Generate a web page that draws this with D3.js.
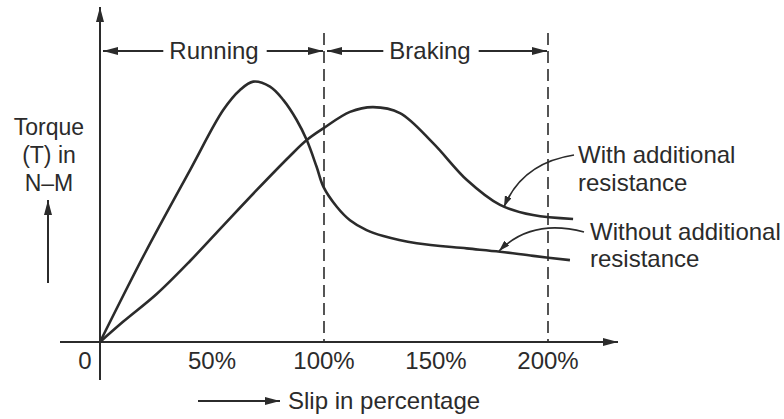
<!DOCTYPE html>
<html><head><meta charset="utf-8">
<script src="https://cdn.jsdelivr.net/npm/d3@7"></script>
<style>html,body{margin:0;padding:0;background:#fff;}svg{display:block;font-family:"Liberation Sans",Arial,sans-serif;}</style>
</head><body>
<svg id="c" width="784" height="419"></svg>
<script>
// Data
const slipWithout = [0,20,40.2,55,62.5,68.4,75.9,81.8,87.8,92.3,96.7,99.7,105.7,111.6,119,126.5,141.4,163.7,178.6,193.4,209.8];
const torqueWithout = [0,29.5,57.3,77.3,84,86.8,85.1,80.7,74,67.3,58.4,51.8,45.1,40.6,37.3,35.3,32.9,31.2,30.1,28.7,27.3];
const slipWith = [0,10.4,25.3,40.2,55,69.9,84.8,92.3,99.7,111.6,121.9,133.9,148.7,163.8,178.6,193.3,211.2];
const torqueWith = [0,6.8,16,27,38.8,50.6,62,67.3,71.2,76.7,78.3,76.3,66.3,54,45.7,42.3,41];
const tickValues = [0,50,100,150,200];
const tickLabels = ["0","50%","100%","150%","200%"];
const regionBounds = [0,100,200];
const regionLabels = ["Running","Braking"];

const ink = "#2b2b2b";
const FS = 24;
const svg = d3.select("#c");
const x = d3.scaleLinear().domain([0,200]).range([100,548]);
const y = d3.scaleLinear().domain([0,100]).range([342,42]);

const defs = svg.append("defs");
function head(id, w, l){
  defs.append("marker").attr("id",id).attr("viewBox",`0 ${-w} ${l} ${2*w}`)
    .attr("refX",l).attr("refY",0).attr("markerWidth",l).attr("markerHeight",2*w)
    .attr("markerUnits","userSpaceOnUse").attr("orient","auto-start-reverse")
    .append("path").attr("d",`M0,${-w}L${l},0L0,${w}Z`).attr("fill",ink);
}
head("ah",4,15);
head("as",3.5,11);

// Axes
svg.append("line").attr("x1",x(0)).attr("x2",x(0)).attr("y1",380).attr("y2",7)
  .attr("stroke",ink).attr("stroke-width",2).attr("marker-end","url(#ah)");
svg.append("line").attr("x1",60).attr("x2",618).attr("y1",y(0)).attr("y2",y(0))
  .attr("stroke",ink).attr("stroke-width",2).attr("marker-end","url(#ah)");

// Dashed boundaries
svg.selectAll(".dash").data([100,200]).enter().append("line")
  .attr("x1",d=>x(d)).attr("x2",d=>x(d)).attr("y1",33).attr("y2",y(0))
  .attr("stroke",ink).attr("stroke-width",1.6).attr("stroke-dasharray","12,6");

// Tick labels
svg.selectAll(".tk").data(tickValues).enter().append("text")
  .attr("x",(d,i)=> i===0 ? x(d)-15 : x(d)).attr("y",369)
  .attr("text-anchor","middle").attr("font-size",FS).attr("fill",ink)
  .text((d,i)=>tickLabels[i]);

// Region arrows
const regY = 51;
const regions = [
  {a:regionBounds[0], b:regionBounds[1], label:regionLabels[0], cx:214},
  {a:regionBounds[1], b:regionBounds[2], label:regionLabels[1], cx:430}
];
regions.forEach(r=>{
  const xa = x(r.a)+3, xb = x(r.b)-1;
  const t = svg.append("text").attr("x",r.cx).attr("y",regY+8)
    .attr("text-anchor","middle").attr("font-size",FS).attr("fill",ink).text(r.label);
  const bb = t.node().getBBox();
  svg.append("line").attr("x1",bb.x-6).attr("x2",xa).attr("y1",regY).attr("y2",regY)
    .attr("stroke",ink).attr("stroke-width",2).attr("marker-end","url(#ah)");
  svg.append("line").attr("x1",bb.x+bb.width+8).attr("x2",xb).attr("y1",regY).attr("y2",regY)
    .attr("stroke",ink).attr("stroke-width",2).attr("marker-end","url(#ah)");
});

// Curves
const line = d3.line().x(d=>x(d[0])).y(d=>y(d[1])).curve(d3.curveCatmullRom.alpha(0.5));
svg.append("path").datum(d3.zip(slipWithout,torqueWithout)).attr("d",line)
  .attr("fill","none").attr("stroke",ink).attr("stroke-width",2.6);
svg.append("path").datum(d3.zip(slipWith,torqueWith)).attr("d",line)
  .attr("fill","none").attr("stroke",ink).attr("stroke-width",2.6);

// Y label
const yl = svg.append("text").attr("font-size",FS-1).attr("fill",ink).attr("text-anchor","middle");
[["Torque",135],["(T) in",163],["N\u2013M",191]].forEach(([t,yy])=>{
  yl.append("tspan").attr("x",49).attr("y",yy).text(t);
});
svg.append("line").attr("x1",48).attr("x2",48).attr("y1",283).attr("y2",200)
  .attr("stroke",ink).attr("stroke-width",2).attr("marker-end","url(#ah)");

// X label
svg.append("line").attr("x1",198).attr("x2",280).attr("y1",401).attr("y2",401)
  .attr("stroke",ink).attr("stroke-width",2).attr("marker-end","url(#ah)");
svg.append("text").attr("x",288).attr("y",409).attr("font-size",FS).attr("fill",ink)
  .text("Slip in percentage");

// Annotations
const ann = svg.append("g").attr("font-size",FS).attr("fill",ink);
ann.append("text").attr("x",578).attr("y",163).text("With additional");
ann.append("text").attr("x",578).attr("y",191).text("resistance");
ann.append("text").attr("x",590).attr("y",240).text("Without additional");
ann.append("text").attr("x",590).attr("y",267).text("resistance");
svg.append("path").attr("d","M574,155 Q522,163 504,207").attr("fill","none")
  .attr("stroke",ink).attr("stroke-width",1.6).attr("marker-end","url(#as)");
svg.append("path").attr("d","M584,232 Q532,218 499,251").attr("fill","none")
  .attr("stroke",ink).attr("stroke-width",1.6).attr("marker-end","url(#as)");
</script>
</body></html>
